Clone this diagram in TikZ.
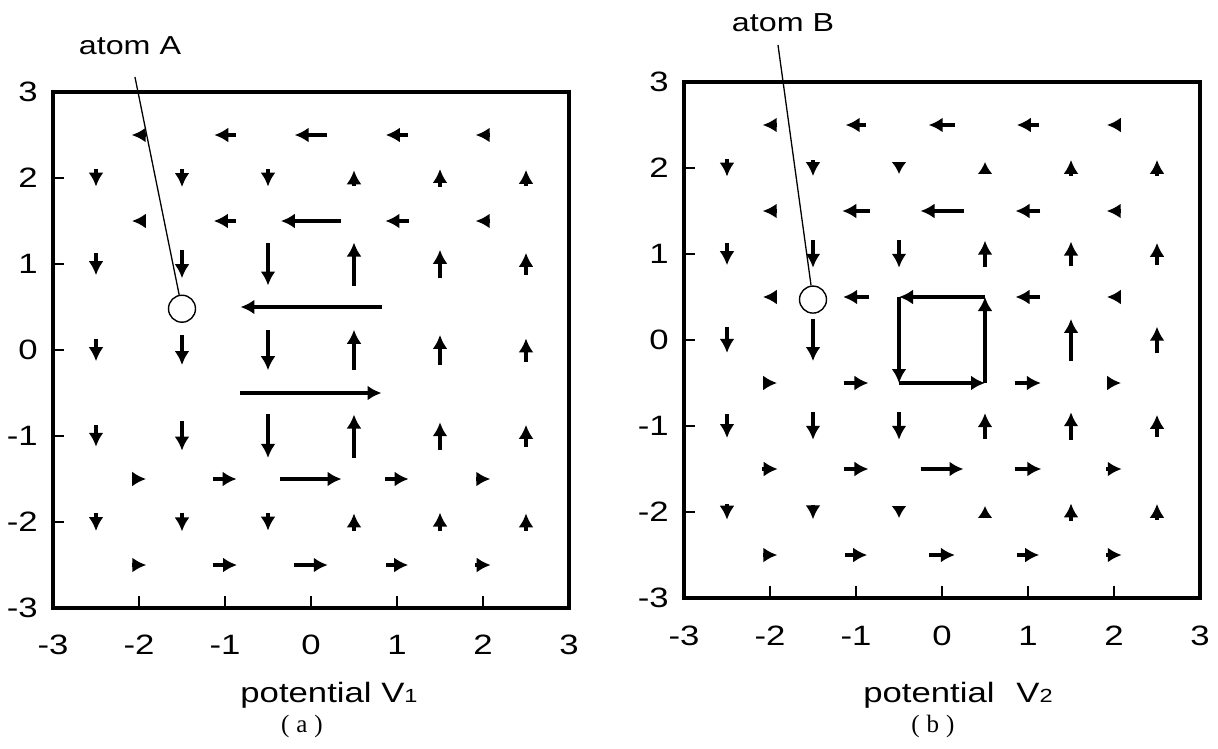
\documentclass[tikz,border=0pt]{standalone}
\usepackage{fontspec}
\setmainfont{Liberation Sans}
\newfontfamily\capfont{Liberation Serif}
\usepackage{graphicx}
\usetikzlibrary{arrows.meta}
\newcommand\sx[1]{\scalebox{1.24}[1]{#1}}
\newcommand\harr[3]{\draw[vec] ({#1-(#3)/2},#2) -- ({#1+(#3)/2},#2);}
\newcommand\varr[3]{\draw[vec] (#1,{#2-(#3)/2}) -- (#1,{#2+(#3)/2});}
\newcommand\tarr[3]{\draw[vecsmall] (#1,{#2-(#3)/2}) -- (#1,{#2+(#3)/2});}
\tikzset{
  vec/.style={line width=3.3pt, -{Latex[length=14pt,width=15pt]}},
  vecsmall/.style={line width=3.3pt, -{Latex[length=12pt,width=15pt]}},
  frame/.style={line width=3.3pt},
  tickmark/.style={line width=2.8pt},
  ticklab/.style={inner sep=0pt, font=\fontsize{28}{30}\selectfont},
  atom/.style={circle, draw, line width=1.4pt, minimum size=27pt, inner sep=0pt, fill=white},
  leader/.style={line width=1.3pt},
  atomlab/.style={inner sep=0pt, anchor=base, font=\fontsize{26}{28}\selectfont},
  potlab/.style={inner sep=0pt, anchor=base, font=\fontsize{28}{30}\selectfont},
  caplab/.style={inner sep=0pt, font=\capfont\fontsize{25}{27}\selectfont},
}
\begin{document}
\begin{tikzpicture}[x=1pt,y=-1pt]
\useasboundingbox (0,0) rectangle (1218,749);
\fill[white] (0,0) rectangle (1218,749);

% ---------------- panel (a) ----------------
\begin{scope}[shift={(311,350)},x=86pt,y=86pt]
  \draw[frame] (-3,-3) rectangle (3,3);
  \foreach \t in {-2,...,2} {
    \draw[tickmark] (-3,\t) -- (-2.87,\t);
    \draw[tickmark] (\t,-3) -- (\t,-2.86);
  }
  \foreach \t [count=\i] in {-3,...,3} {
    \node[ticklab, anchor=east] (ay\i) at ([xshift=-15pt]-3,\t) {\sx{\t}};
    \node[ticklab] (ax\i) at ([yshift=-37pt]\t,-3) {\sx{\t}};
  }
  % horizontal arrows
  \foreach \x/\l in {-2/0.17,-1/0.25,0/0.38,1/0.26,2/0.17} {\harr{\x}{2.5}{-\l}}
  \foreach \x/\l in {-2/0.165,-1/0.26,0/0.70,1/0.27,2/0.17} {\harr{\x}{1.5}{-\l}}
  \harr{0}{0.5}{-1.64}
  \harr{0}{-0.5}{1.64}
  \foreach \x/\l in {-2/0.165,-1/0.27,0/0.71,1/0.27,2/0.17} {\harr{\x}{-1.5}{\l}}
  \foreach \x/\l in {-2/0.17,-1/0.28,0/0.39,1/0.26,2/0.18} {\harr{\x}{-2.5}{\l}}
  % vertical arrows
  \foreach \x/\l in {-2.5/-0.2,-1.5/-0.21,-0.5/-0.2,0.5/0.18,1.5/0.21,2.5/0.19} {\varr{\x}{2}{\l}}
  \foreach \x/\l in {-2.5/-0.26,-1.5/-0.33,-0.5/-0.5,0.5/0.5,1.5/0.33,2.5/0.26} {\varr{\x}{1}{\l}}
  \foreach \x/\l in {-2.5/-0.26,-1.5/-0.35,-0.5/-0.47,0.5/0.47,1.5/0.35,2.5/0.27} {\varr{\x}{0}{\l}}
  \foreach \x/\l in {-2.5/-0.25,-1.5/-0.34,-0.5/-0.51,0.5/0.5,1.5/0.32,2.5/0.26} {\varr{\x}{-1}{\l}}
  \foreach \x/\l in {-2.5/-0.21,-1.5/-0.22,-0.5/-0.2,0.5/0.2,1.5/0.22,2.5/0.2} {\varr{\x}{-2}{\l}}
  % atom A
  \node[atom] (atomA) at (-1.5,0.48) {};
  \coordinate (leadA) at (-2.047,3.174);
  \draw[leader] (leadA) -- (atomA);
\end{scope}

% ---------------- panel (b) ----------------
\begin{scope}[shift={(942,340)},x=86pt,y=86pt]
  \draw[frame] (-3,-3) rectangle (3,3);
  \foreach \t in {-2,...,2} {
    \draw[tickmark] (-3,\t) -- (-2.87,\t);
    \draw[tickmark] (\t,-3) -- (\t,-2.86);
  }
  \foreach \t [count=\i] in {-3,...,3} {
    \node[ticklab, anchor=east] (by\i) at ([xshift=-15pt]-3,\t) {\sx{\t}};
    \node[ticklab] (bx\i) at ([yshift=-38pt]\t,-3) {\sx{\t}};
  }
  % horizontal arrows
  \foreach \x/\l in {-2/0.17,-1/0.24,0/0.31,1/0.26,2/0.165} {\harr{\x}{2.5}{-\l}}
  \foreach \x/\l in {-2/0.17,-1/0.32,0/0.5,1/0.29,2/0.17} {\harr{\x}{1.5}{-\l}}
  \foreach \x/\l in {-2/0.165,-1/0.3,1/0.29,2/0.165} {\harr{\x}{0.5}{-\l}}
  \foreach \x/\l in {-2/0.165,-1/0.29,1/0.3,2/0.165} {\harr{\x}{-0.5}{\l}}
  \foreach \x/\l in {-2/0.18,-1/0.29,0/0.5,1/0.31,2/0.18} {\harr{\x}{-1.5}{\l}}
  \foreach \x/\l in {-2/0.17,-1/0.26,0/0.3,1/0.26,2/0.18} {\harr{\x}{-2.5}{\l}}
  % vertical arrows
  \foreach \x/\l in {-2.5/-0.2,-1.5/-0.19,1.5/0.19,2.5/0.19} {\varr{\x}{2}{\l}}
  \tarr{-0.5}{2}{-0.14}
  \tarr{0.5}{2}{0.14}
  \foreach \x/\l in {-2.5/-0.26,-1.5/-0.32,-0.5/-0.32,0.5/0.31,1.5/0.29,2.5/0.26} {\varr{\x}{1}{\l}}
  \foreach \x/\l in {-2.5/-0.3,-1.5/-0.49,1.5/0.49,2.5/0.31} {\varr{\x}{0}{\l}}
  \foreach \x/\l in {-2.5/-0.28,-1.5/-0.32,-0.5/-0.32,0.5/0.3,1.5/0.32,2.5/0.26} {\varr{\x}{-1}{\l}}
  \foreach \x/\l in {-2.5/-0.18,-1.5/-0.17,1.5/0.2,2.5/0.19} {\varr{\x}{-2}{\l}}
  \tarr{-0.5}{-2}{-0.14}
  \tarr{0.5}{-2}{0.14}
  % square loop
  \draw[vec] (0.5,0.5) -- (-0.5,0.5);
  \draw[vec] (-0.5,0.5) -- (-0.5,-0.5);
  \draw[vec] (-0.5,-0.5) -- (0.5,-0.5);
  \draw[vec] (0.5,-0.5) -- (0.5,0.5);
  % atom B
  \node[atom] (atomB) at (-1.5,0.47) {};
  \coordinate (leadB) at (-1.907,3.43);
  \draw[leader] (leadB) -- (atomB);
\end{scope}

% ---------------- labels ----------------
\node[atomlab] (labA) at (130,55) {\sx{atom A}};
\node[atomlab] (labB) at (783,32) {\sx{atom B}};
\node[potlab] (potA) at (329,702) {\sx{potential V{\fontsize{19}{19}\selectfont 1}}};
\node[potlab] (potB) at (958,702) {\sx{potential\hspace{0.35em} V{\fontsize{19}{19}\selectfont 2}}};
\node[caplab] (capA) at (302,726) {(\;a\;)};
\node[caplab] (capB) at (933,726) {(\;b\;)};
\end{tikzpicture}
\end{document}
